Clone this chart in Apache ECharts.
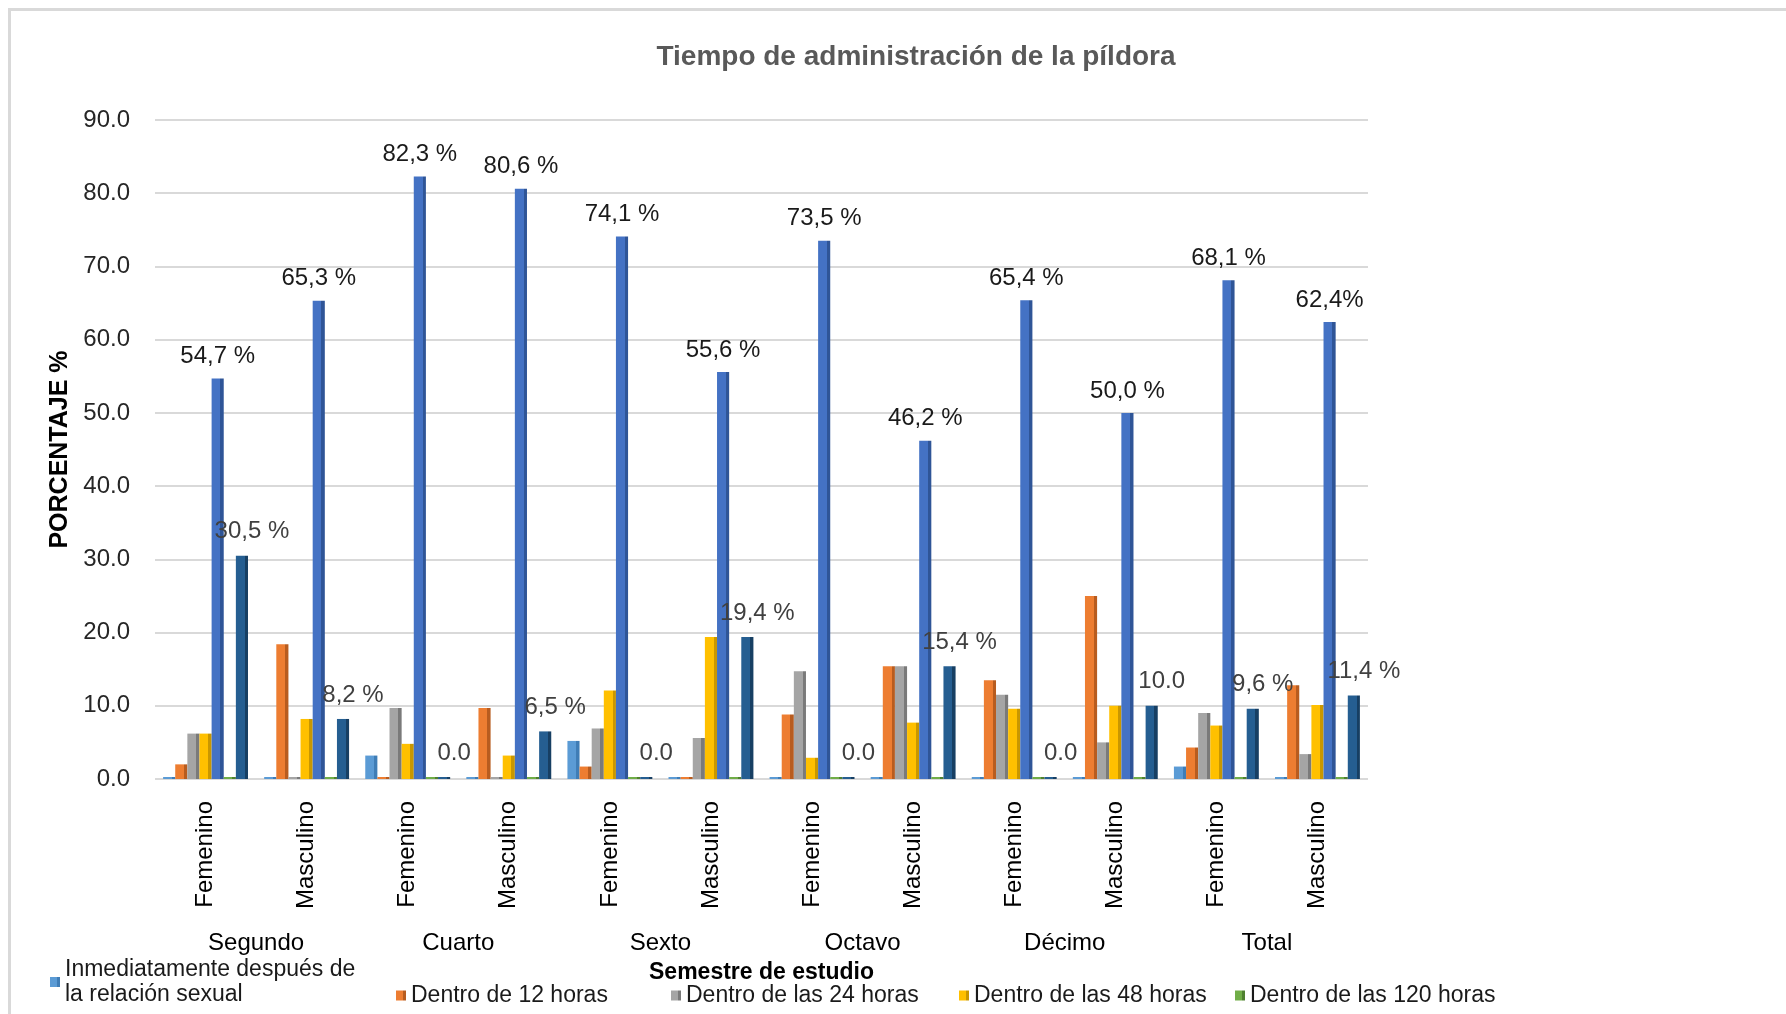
<!DOCTYPE html>
<html>
<head>
<meta charset="utf-8">
<title>Tiempo de administración de la píldora</title>
<script src="https://cdn.jsdelivr.net/npm/echarts@6/dist/echarts.min.js"></script>
<style>
  html, body { margin: 0; padding: 0; background: #fff; }
  #frame { position: absolute; left: 8px; top: 8px; width: 1778px; height: 1006px;
           border-top: 3px solid #d9d9d9; border-left: 3px solid #d9d9d9; box-sizing: border-box; }
  #chart { position: absolute; left: 0; top: 0; width: 1786px; height: 1014px; }
</style>
</head>
<body>
<div id="frame"></div>
<div id="chart"></div>
<script>
// categorias
const sexos = ['Femenino', 'Masculino', 'Femenino', 'Masculino', 'Femenino', 'Masculino',
  'Femenino', 'Masculino', 'Femenino', 'Masculino', 'Femenino', 'Masculino'];
const semestres = ['Segundo', 'Cuarto', 'Sexto', 'Octavo', 'Décimo', 'Total'];

// valores por serie (%)
const inmediato = [0, 0, 3.2, 0, 5.2, 0, 0, 0, 0, 0, 1.7, 0];
const horas12 = [2.0, 18.4, 0, 9.7, 1.7, 0, 8.8, 15.4, 13.5, 25.0, 4.3, 12.8];
const horas24 = [6.2, 0, 9.7, 0, 6.9, 5.6, 14.7, 15.4, 11.5, 5.0, 9.0, 3.4];
const horas48 = [6.2, 8.2, 4.8, 3.2, 12.1, 19.4, 2.9, 7.7, 9.6, 10.0, 7.3, 10.1];
const horas72 = [54.7, 65.3, 82.3, 80.6, 74.1, 55.6, 73.5, 46.2, 65.4, 50.0, 68.1, 62.4];
const horas120 = [0, 0, 0, 0, 0, 0, 0, 0, 0, 0, 0, 0];
const otros = [30.5, 8.2, 0, 6.5, 0, 19.4, 0, 15.4, 0, 10.0, 9.6, 11.4];

// etiquetas tal como aparecen
const labels72 = ['54,7 %', '65,3 %', '82,3 %', '80,6 %', '74,1 %', '55,6 %',
  '73,5 %', '46,2 %', '65,4 %', '50,0 %', '68,1 %', '62,4%'];
const labelsOtros = ['30,5 %', '8,2 %', '0.0', '6,5 %', '0.0', '19,4 %',
  '0.0', '15,4 %', '0.0', '10.0', '9,6 %', '11,4 %'];

const FONT = 'Arial, "Liberation Sans", sans-serif';

// cara lateral oscura para imitar el 3D
const bar3d = (c, dark) => ({
  type: 'linear', x: 0, y: 0, x2: 1, y2: 0,
  colorStops: [
    { offset: 0, color: c }, { offset: 0.72, color: c },
    { offset: 0.72, color: dark }, { offset: 1, color: dark }
  ]
});

const mkSerie = (name, data, c, dark, extra) => Object.assign({
  name: name,
  type: 'bar',
  data: data,
  barGap: '0%',
  barCategoryGap: '16%',
  barMinHeight: 2,
  itemStyle: { color: bar3d(c, dark) }
}, extra || {});

const chart = echarts.init(document.getElementById('chart'));

const legendAt = (name, left, top) => ({
  data: [name],
  left: left, top: top,
  itemWidth: 10, itemHeight: 10, padding: 0,
  icon: 'rect',
  textStyle: { fontFamily: FONT, fontSize: 23, color: '#1a1a1a', lineHeight: 25 }
});

const option = {
  animation: false,
  textStyle: { fontFamily: FONT },
  title: {
    text: 'Tiempo de administración de la píldora',
    left: 911, textAlign: 'center', top: 38,
    textStyle: { fontFamily: FONT, fontSize: 28, fontWeight: 'bold', color: '#595959' }
  },
  legend: [
    legendAt('Inmediatamente después de\nla relación sexual', 50, 957),
    legendAt('Dentro de 12 horas', 396, 983),
    legendAt('Dentro de las 24 horas', 671, 983),
    legendAt('Dentro de las 48 horas', 959, 983),
    legendAt('Dentro de las 120 horas', 1235, 983)
  ],
  grid: { left: 155, right: 418, top: 120, bottom: 235 },
  xAxis: [
    {
      type: 'category',
      data: sexos,
      axisLine: { show: false },
      axisTick: { show: false },
      axisLabel: { rotate: 90, margin: 22, fontSize: 24, color: '#000', interval: 0 }
    },
    {
      type: 'category',
      data: semestres,
      position: 'bottom',
      offset: 144,
      axisLine: { show: false },
      axisTick: { show: false },
      axisLabel: { margin: 8, fontSize: 24, color: '#000', interval: 0 },
      name: 'Semestre de estudio',
      nameLocation: 'middle',
      nameGap: 38,
      nameTextStyle: { fontSize: 23, fontWeight: 'bold', color: '#000' }
    }
  ],
  yAxis: {
    type: 'value',
    min: 0, max: 90, interval: 10,
    name: 'PORCENTAJE %',
    nameLocation: 'middle',
    nameGap: 77,
    nameTextStyle: { fontSize: 25, fontWeight: 'bold', color: '#000' },
    axisLine: { show: false },
    axisTick: { show: false },
    axisLabel: { margin: 25, fontSize: 24, color: '#262626', formatter: v => v.toFixed(1) },
    splitLine: { lineStyle: { color: '#d9d9d9', width: 2 } }
  },
  series: [
    mkSerie('Inmediatamente después de\nla relación sexual', inmediato, '#5b9bd5', '#3f7db6'),
    mkSerie('Dentro de 12 horas', horas12, '#ed7d31', '#b85c1f'),
    mkSerie('Dentro de las 24 horas', horas24, '#a5a5a5', '#7a7a7a'),
    mkSerie('Dentro de las 48 horas', horas48, '#ffc000', '#c99700'),
    mkSerie('Dentro de las 72 horas', horas72, '#4472c4', '#2f5597', {
      label: {
        show: true, position: 'top', distance: 10,
        fontSize: 24, color: '#1a1a1a',
        formatter: p => labels72[p.dataIndex]
      }
    }),
    mkSerie('Dentro de las 120 horas', horas120, '#70ad47', '#4f8030'),
    mkSerie('Después de las 72 horas', otros, '#255e91', '#173f63', {
      label: {
        show: true, position: 'top', distance: 12, offset: [10, 0],
        fontSize: 24, color: '#404040',
        formatter: p => labelsOtros[p.dataIndex]
      }
    })
  ]
};

chart.setOption(option);
</script>
</body>
</html>
